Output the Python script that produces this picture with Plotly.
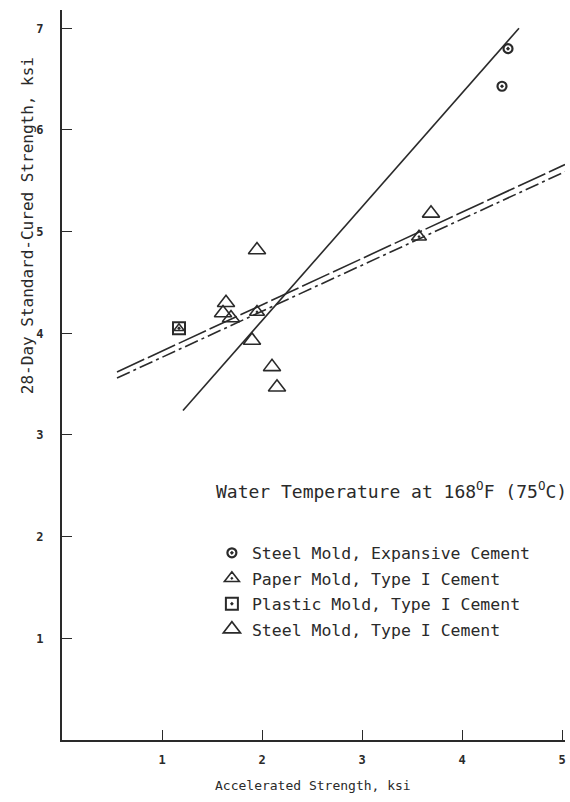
import plotly.graph_objects as go

# Accelerated vs. 28-day standard-cured strength (ksi), water bath at 168 F
steel_exp_x = [4.46, 4.40]
steel_exp_y = [6.80, 6.43]

paper_x = [1.95, 3.57]
paper_y = [4.21, 4.95]

plastic_x = [1.17]
plastic_y = [4.05]

steel_t1_x = [1.64, 1.61, 1.69, 1.90, 1.95, 2.10, 2.15, 3.69]
steel_t1_y = [4.30, 4.20, 4.15, 3.93, 4.82, 3.67, 3.47, 5.18]

# fitted lines (end points)
fit_steep_x = [1.21, 4.57]
fit_steep_y = [3.24, 7.00]

fit_a_x = [0.55, 5.03]
fit_a_y = [3.62, 5.66]

fit_b_x = [0.55, 5.03]
fit_b_y = [3.56, 5.59]

FONT = "DejaVu Sans Mono"
INK = "#2a2a2a"

fig = go.Figure()

fig.add_trace(go.Scatter(x=fit_steep_x, y=fit_steep_y, mode="lines",
                         line=dict(color=INK, width=1.6), showlegend=False, hoverinfo="skip"))
fig.add_trace(go.Scatter(x=fit_a_x, y=fit_a_y, mode="lines",
                         line=dict(color=INK, width=1.6, dash="30px,4px"), showlegend=False, hoverinfo="skip"))
fig.add_trace(go.Scatter(x=fit_b_x, y=fit_b_y, mode="lines",
                         line=dict(color=INK, width=1.6, dash="14px,4px,3px,4px"), showlegend=False, hoverinfo="skip"))

fig.add_trace(go.Scatter(x=steel_exp_x, y=steel_exp_y, mode="markers",
                         name="Steel Mold, Expansive Cement", legendgroup="a",
                         marker=dict(symbol="circle-open-dot", size=9, color=INK, line=dict(width=2.2))))
fig.add_trace(go.Scatter(x=paper_x, y=paper_y, mode="markers",
                         name="Paper Mold, Type I Cement", legendgroup="b",
                         marker=dict(symbol="triangle-up-open-dot", size=13, color=INK, line=dict(width=1.6))))
fig.add_trace(go.Scatter(x=plastic_x, y=plastic_y, mode="markers",
                         name="Plastic Mold, Type I Cement", legendgroup="c",
                         marker=dict(symbol="square-open-dot", size=12, color=INK, line=dict(width=2))))
fig.add_trace(go.Scatter(x=plastic_x, y=plastic_y, mode="markers", legendgroup="c", showlegend=False,
                         marker=dict(symbol="triangle-up-open", size=9, color=INK, line=dict(width=1.5))))
fig.add_trace(go.Scatter(x=steel_t1_x, y=steel_t1_y, mode="markers",
                         name="Steel Mold, Type I Cement", legendgroup="d",
                         marker=dict(symbol="triangle-up-open", size=15, color=INK, line=dict(width=1.6))))

axis_common = dict(showgrid=False, zeroline=False, showline=True, linecolor=INK, linewidth=2,
                   ticks="inside", ticklen=10, tickwidth=1.2, tickcolor=INK,
                   tickfont=dict(family=FONT, size=12, color=INK, weight="bold"), mirror=False)

fig.update_xaxes(range=[0, 5.03], tickvals=[1, 2, 3, 4, 5], ticklabelstandoff=8, **axis_common)
fig.update_yaxes(range=[0, 7.18], tickvals=[1, 2, 3, 4, 5, 6, 7], ticklabelstandoff=14, **axis_common)

fig.add_annotation(text="28-Day Standard-Cured Strength, ksi", textangle=-90,
                   xref="paper", yref="paper", x=-0.068, y=0.705,
                   xanchor="center", yanchor="middle", showarrow=False,
                   font=dict(family=FONT, size=16, color=INK))
fig.add_annotation(text="Accelerated Strength, ksi",
                   xref="paper", yref="paper", x=0.499, y=-0.062,
                   xanchor="center", yanchor="middle", showarrow=False,
                   font=dict(family=FONT, size=13, color=INK))
fig.add_annotation(text="Water Temperature at 168<sup>O</sup>F (75<sup>O</sup>C)",
                   xref="paper", yref="paper", x=0.302, y=0.342,
                   xanchor="left", yanchor="middle", showarrow=False,
                   font=dict(family=FONT, size=18, color=INK))

fig.update_layout(
    width=570, height=802,
    margin=dict(l=62, r=5, t=10, b=62),
    paper_bgcolor="white", plot_bgcolor="white",
    showlegend=True,
    legend=dict(x=0.298, y=0.28, xanchor="left", yanchor="top",
                font=dict(family=FONT, size=16.5, color=INK),
                bgcolor="rgba(0,0,0,0)", tracegroupgap=1, itemwidth=30),
)

fig.write_html("out.html")
